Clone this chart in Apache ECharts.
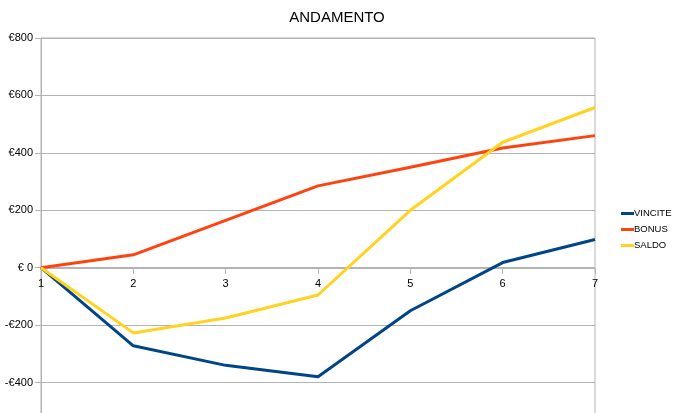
<!DOCTYPE html>
<html><head><meta charset="utf-8">
<script src="https://cdn.jsdelivr.net/npm/echarts@6/dist/echarts.min.js"></script>
<style>html,body{margin:0;padding:0;background:#fff}#c{width:674px;height:413px}</style>
</head><body><div id="c"></div>
<script>
var categories = ['1','2','3','4','5','6','7'];
var vincite = [0, -272, -340, -380, -150, 18, 98];
var bonus = [0, 45, 165, 285, 350, 417, 460];
var saldo = [0, -227, -175, -95, 200, 437, 558];
var yTicks = {min: -600, max: 800, interval: 200};

var chart = echarts.init(document.getElementById('c'));
var font = 'Liberation Sans, Arial, sans-serif';
chart.setOption({
  animation: false,
  backgroundColor: '#fff',
  title: {text: 'ANDAMENTO', left: 'center', top: 5,
    textStyle: {fontFamily: font, fontSize: 15, fontWeight: 'normal', color: '#000'}},
  grid: {left: 41, right: 79, top: 38, height: 402, show: true, borderColor: '#b3b3b3', borderWidth: 1, containLabel: false, outerBoundsMode: 'none'},
  legend: {orient: 'vertical', left: 616, top: 203, itemWidth: 13, itemHeight: 3, itemGap: 5, icon: 'rect',
    textStyle: {fontFamily: font, fontSize: 9.5, color: '#000', lineHeight: 11, padding: [0,0,0,-5]},
    data: ['VINCITE','BONUS','SALDO']},
  xAxis: {type: 'category', data: categories, boundaryGap: false, position: 'bottom', offset: -172,
    axisLine: {onZero: false, lineStyle: {color: '#b3b3b3'}},
    axisTick: {show: true, length: 6, lineStyle: {color: '#b3b3b3'}},
    axisLabel: {fontFamily: font, fontSize: 11, color: '#000', margin: 10, showMaxLabel: true, showMinLabel: true},
    splitLine: {show: false}},
  yAxis: {type: 'value', min: yTicks.min, max: yTicks.max, interval: yTicks.interval,
    axisLine: {show: true, lineStyle: {color: '#b3b3b3'}},
    axisTick: {show: true, length: 6, lineStyle: {color: '#b3b3b3'}},
    axisLabel: {fontFamily: font, fontSize: 11, color: '#000', margin: 8,
      formatter: function(v){ if (v === 0) return '€ 0'; return (v < 0 ? '-€' : '€') + Math.abs(v); }},
    splitLine: {show: true, lineStyle: {color: '#b3b3b3'}}},
  series: [
    {name: 'VINCITE', type: 'line', data: vincite, showSymbol: false, symbol: 'none', lineStyle: {width: 3, color: '#004586'}, itemStyle: {color: '#004586'}},
    {name: 'BONUS', type: 'line', data: bonus, showSymbol: false, symbol: 'none', lineStyle: {width: 3, color: '#ff420e'}, itemStyle: {color: '#ff420e'}},
    {name: 'SALDO', type: 'line', data: saldo, showSymbol: false, symbol: 'none', lineStyle: {width: 3, color: '#ffd320'}, itemStyle: {color: '#ffd320'}}
  ]
});
</script></body></html>
